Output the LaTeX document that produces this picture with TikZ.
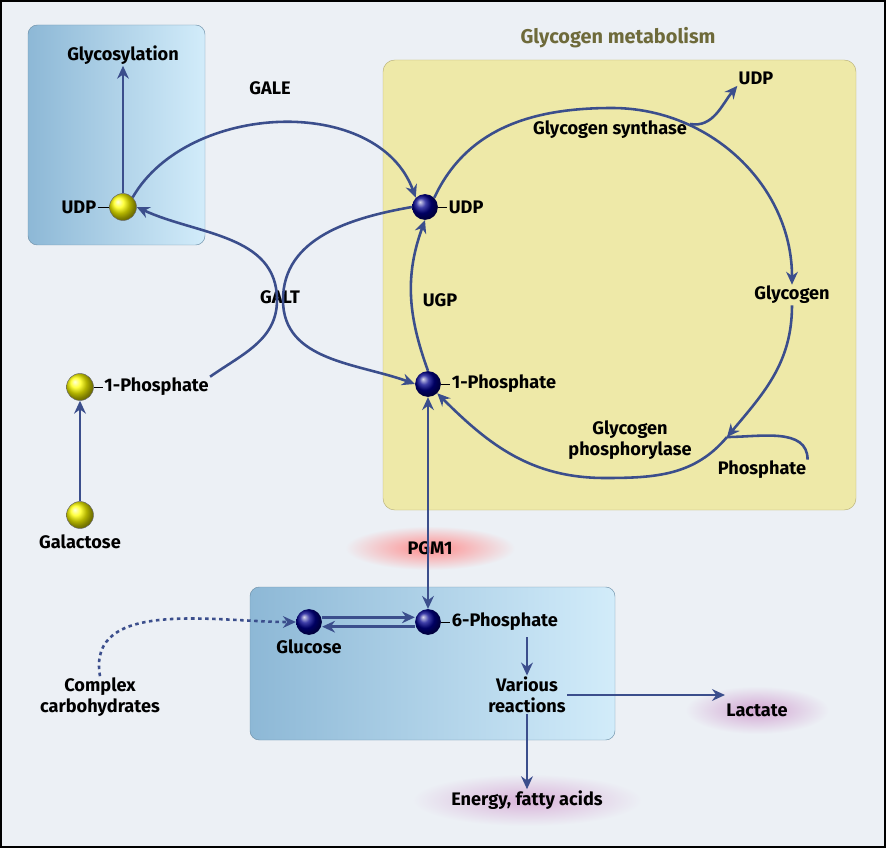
\documentclass[tikz,border=0pt]{standalone}
\usepackage{fontspec}
\setmainfont{Fira Sans}
\usetikzlibrary{positioning,arrows.meta,shadings,shapes.geometric}
\definecolor{bgc}{HTML}{ECF0F5}
\definecolor{linec}{HTML}{3B4E8C}
\definecolor{boxL}{HTML}{8DB8D6}
\definecolor{boxR}{HTML}{D2ECFA}
\definecolor{glyc}{HTML}{EEE9A8}
\definecolor{glyd}{HTML}{B8B077}
\definecolor{titc}{HTML}{6E6A3A}
\tikzset{
    lbl/.style={font=\fontsize{15.5}{18}\selectfont\bfseries, text=black, inner sep=1pt},
    tip/.tip={Stealth[length=11pt,width=10pt]},
    arr/.style={-tip, line width=2.2pt, linec},
    ln/.style={line width=2.2pt, linec},
    ballB/.style={circle, shading=ball, ball color=blue!55!black, minimum size=22pt, inner sep=0pt},
    ballY/.style={circle, draw=black!60, shading=ball, ball color=yellow, minimum size=23pt, inner sep=0pt},
    bluebox/.style={rounded corners=8pt, left color=boxL, right color=boxR, draw=boxL!80!black}
}
\begin{document}
\begin{tikzpicture}[x=0.03cm,y=0.03cm]
    % background
    \fill[bgc, draw=black, line width=1.2pt] (1,-1) rectangle (885,-847);
    \useasboundingbox (0,0) rectangle (886,-848);

    % boxes
    \shade[bluebox] (28,-25) rectangle (205,-245);
    \filldraw[fill=glyc, draw=glyd, rounded corners=10pt] (383,-60) rectangle (856,-510);
    \shade[bluebox] (250,-587) rectangle (615,-740);
    \node[lbl, text=titc, font=\fontsize{17}{19}\selectfont\bfseries] (title) at (618,-38) {Glycogen metabolism};

    % glows
    \shade[inner color=red!45, outer color=bgc] (430,-548) ellipse (85 and 22);
    \shade[inner color=violet!35, outer color=bgc] (757,-710) ellipse (72 and 24);
    \shade[inner color=violet!30, outer color=bgc] (527,-800) ellipse (115 and 26);

    % balls
    \node[ballY] (udpY) at (123,-207) {};
    \node[ballY] (p1Y) at (80,-387) {};
    \node[ballY] (galY) at (80,-515) {};
    \node[ballB] (udpB) at (425,-207) {};
    \node[ballB] (p1B) at (428,-384) {};
    \node[ballB] (glcB) at (309,-622) {};
    \node[ballB] (p6B) at (428,-622) {};

    % labels
    \node[lbl] (glycos) at (123,-55) {Glycosylation};
    \node[lbl, left=10pt of udpY] (udpYl) {UDP};
    \draw[black, line width=0.8pt] (udpYl.east) -- (udpY.west);
    \node[lbl, right=8pt of p1Y] (p1Yl) {1-Phosphate};
    \draw[black, line width=0.8pt] (p1Y.east) -- (p1Yl.west);
    \node[lbl, below=4pt of galY] (galYl) {Galactose};
    \node[lbl, right=8pt of udpB] (udpBl) {UDP};
    \draw[black, line width=0.8pt] (udpB.east) -- (udpBl.west);
    \node[lbl, right=8pt of p1B] (p1Bl) {1-Phosphate};
    \draw[black, line width=0.8pt] (p1B.east) -- (p1Bl.west);
    \node[lbl, below=3pt of glcB] (glcl) {Glucose};
    \node[lbl, right=8pt of p6B] (p6l) {6-Phosphate};
    \draw[black, line width=0.8pt] (p6B.east) -- (p6l.west);
    \node[lbl, align=center] (various) at (527,-695) {Various\\reactions};
    \node[lbl] (lactate) at (757,-710) {Lactate};
    \node[lbl] (energy) at (527,-800) {Energy, fatty acids};
    \node[lbl, align=center] (complex) at (100,-697) {Complex\\carbohydrates};
    \node[lbl] (gale) at (270,-88) {GALE};
    \node[lbl] (galt) at (280,-297) {GALT};
    \node[lbl] (ugp) at (440,-300) {UGP};
    \node[lbl] (pgm) at (430,-548) {PGM1};
    \node[lbl] (synth) at (610,-130) {Glycogen synthase};
    \node[lbl] (udpT) at (756,-78) {UDP};
    \node[lbl] (glycogen) at (792,-295) {Glycogen};
    \node[lbl, align=center] (phos) at (630,-440) {Glycogen\\phosphorylase};
    \node[lbl] (phosphate) at (762,-470) {Phosphate};

    % left column
    \draw[arr] (galY) -- (p1Y);
    \draw[arr] (udpY) -- (glycos);
    \draw[arr] (udpY.north east) to[out=60,in=110] (udpB.north west);

    % GALT
    \draw[arr] (p1Yl.north east) to[out=35,in=-90] (277,-300) to[out=90,in=-25] (udpY.east);
    \draw[arr] (udpB.west) to[out=190,in=90] (283,-300) to[out=-90,in=160] (p1B.west);

    % glycogen cycle
    \coordinate (top) at (612,-108);
    \coordinate (pA) at (727,-437);
    \coordinate (bot) at (605,-478);
    \coordinate (side) at (690,-124);
    \draw[arr] (udpB.north east) to[out=65,in=180] (top) to[out=0,in=90] (glycogen.north);
    \draw[arr] (side) to[out=-10,in=-130] (udpT.south west);
    \draw[arr] (glycogen.south) to[out=-90,in=50] (pA);
    \draw[arr] (pA) to[out=-130,in=0] (bot) to[out=180,in=-45] (p1B.south east);
    \draw[ln] (phosphate.north east) to[out=90,in=0] (pA);
    \draw[arr] (p1B.north) to[out=110,in=-110] (udpB.south);

    % PGM1 and bottom
    \draw[arr, tip-tip] (p1B.south) -- (p6B.north);
    \draw[arr] ([yshift=4pt]glcB.east) -- ([yshift=4pt]p6B.west);
    \draw[arr] ([yshift=-4pt]p6B.west) -- ([yshift=-4pt]glcB.east);
    \draw[arr] (527,-637) -- (various.north);
    \draw[arr] (various.east) -- (various.east -| lactate.west);
    \draw[arr] (various.south) -- (energy.north);
    \draw[arr, dashed] (complex.north) to[out=100,in=180] (glcB.west);
\end{tikzpicture}
\end{document}
